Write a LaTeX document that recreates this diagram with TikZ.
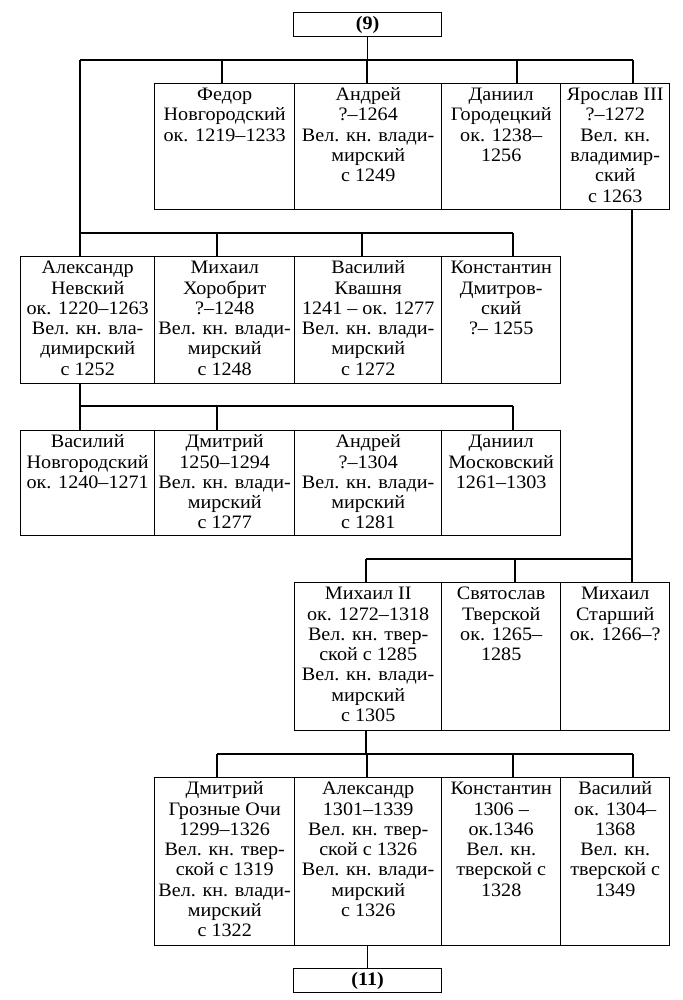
\documentclass[tikz,border=0pt]{standalone}
\usepackage{fontspec}
\setmainfont[FakeStretch=1.06]{Liberation Serif}
\tikzset{
  kb/.style={draw, line width=1.4pt, inner sep=0pt, anchor=north west, font=\fontsize{19}{20.3}\selectfont},
  hb/.style={draw, line width=1.4pt, inner sep=0pt, minimum width=148pt, minimum height=24pt, anchor=north west, font=\fontsize{19}{20.3}\selectfont\bfseries},
  ln/.style={line width=1.4pt}
}
% #1 name, #2 x-left, #3 y-top, #4 width, #5 height, #6 text
\newcommand{\kbox}[6]{%
  \node[kb] (#1) at (#2,#3) {\parbox[t][#5pt][t]{#4pt}{\centering\rule{0pt}{17pt}#6}};%
}
\begin{document}
\begin{tikzpicture}[x=1pt,y=-1pt]
\useasboundingbox[fill=white] (0,0) rectangle (682,1000);

% top and bottom reference boxes
\node[hb] (n9) at (293,12) {(9)};
\node[hb] (n11) at (293,968) {(11)};

% Row 1
\kbox{fedor}{154}{83}{140}{126}{Федор\\Новгородский\\ок. 1219–1233}
\kbox{andrA}{294}{83}{147}{126}{Андрей\\?–1264\\Вел. кн. влади-\\мирский\\с 1249}
\kbox{danG}{441}{83}{119}{126}{Даниил\\Городецкий\\ок. 1238–\\1256}
\kbox{yarosl}{560}{83}{109}{126}{Ярослав III\\?–1272\\Вел. кн.\\владимир-\\ский\\с 1263}

% Row 2
\kbox{alexN}{20}{256}{134}{127}{Александр\\Невский\\ок. 1220–1263\\Вел. кн. вла-\\димирский\\с 1252}
\kbox{mikhH}{154}{256}{140}{127}{Михаил\\Хоробрит\\?–1248\\Вел. кн. влади-\\мирский\\с 1248}
\kbox{vasK}{294}{256}{147}{127}{Василий\\Квашня\\1241 – ок. 1277\\Вел. кн. влади-\\мирский\\с 1272}
\kbox{konD}{441}{256}{119}{127}{Константин\\Дмитров-\\ский\\?– 1255}

% Row 3
\kbox{vasN}{20}{430}{134}{105}{Василий\\Новгородский\\ок. 1240–1271}
\kbox{dmit}{154}{430}{140}{105}{Дмитрий\\1250–1294\\Вел. кн. влади-\\мирский\\с 1277}
\kbox{andrB}{294}{430}{147}{105}{Андрей\\?–1304\\Вел. кн. влади-\\мирский\\с 1281}
\kbox{danM}{441}{430}{119}{105}{Даниил\\Московский\\1261–1303}

% Row 4
\kbox{mikhII}{294}{582}{147}{148}{Михаил II\\ок. 1272–1318\\Вел. кн. твер-\\ской с 1285\\Вел. кн. влади-\\мирский\\с 1305}
\kbox{svyat}{441}{582}{119}{148}{Святослав\\Тверской\\ок. 1265–\\1285}
\kbox{mikhS}{560}{582}{109}{148}{Михаил\\Старший\\ок. 1266–?}

% Row 5
\kbox{dmitG}{154}{777}{140}{168}{Дмитрий\\Грозные Очи\\1299–1326\\Вел. кн. твер-\\ской с 1319\\Вел. кн. влади-\\мирский\\с 1322}
\kbox{alexT}{294}{777}{147}{168}{Александр\\1301–1339\\Вел. кн. твер-\\ской с 1326\\Вел. кн. влади-\\мирский\\с 1326}
\kbox{konT}{441}{777}{119}{168}{Константин\\1306 –\\ок.1346\\Вел. кн.\\тверской с\\1328}
\kbox{vasT}{560}{777}{109}{168}{Василий\\ок. 1304–\\1368\\Вел. кн.\\тверской с\\1349}

% bus 1 (from (9))
\coordinate (b1L) at (80,60);
\coordinate (b1R) at (633,60);
\coordinate (d1a) at (222,60);
\coordinate (d1b) at (367,60);
\coordinate (d1c) at (517,60);
\draw[ln] (n9.south) -- (n9.south |- b1L);
\draw[ln] (b1L) -- (b1R);
\draw[ln] (d1a) -- (d1a |- fedor.north);
\draw[ln] (d1b) -- (d1b |- andrA.north);
\draw[ln] (d1c) -- (d1c |- danG.north);
\draw[ln] (b1R) -- (b1R |- yarosl.north);

% bus 2
\coordinate (b2L) at (80,233);
\coordinate (b2R) at (513,233);
\coordinate (d2b) at (217,233);
\coordinate (d2c) at (362,233);
\draw[ln] (b1L) -- (b2L);
\draw[ln] (b2L) -- (b2R);
\draw[ln] (b2L) -- (b2L |- alexN.north);
\draw[ln] (d2b) -- (d2b |- mikhH.north);
\draw[ln] (d2c) -- (d2c |- vasK.north);
\draw[ln] (b2R) -- (b2R |- konD.north);

% bus 3 (from Alexander Nevsky)
\coordinate (b3L) at (80,406);
\coordinate (b3R) at (513,406);
\coordinate (d3b) at (217,406);
\draw[ln] (b3L |- alexN.south) -- (b3L);
\draw[ln] (b3L) -- (b3R);
\draw[ln] (b3L) -- (b3L |- vasN.north);
\draw[ln] (d3b) -- (d3b |- dmit.north);
\draw[ln] (b3R) -- (b3R |- danM.north);

% bus 4 (from Yaroslav III)
\coordinate (b4R) at (632,559);
\coordinate (b4L) at (366,559);
\coordinate (d4b) at (515,559);
\draw[ln] (b4R |- yarosl.south) -- (b4R);
\draw[ln] (b4L) -- (b4R);
\draw[ln] (b4L) -- (b4L |- mikhII.north);
\draw[ln] (d4b) -- (d4b |- svyat.north);
\draw[ln] (b4R) -- (b4R |- mikhS.north);

% bus 5 (from Mikhail II)
\coordinate (b5L) at (217,754);
\coordinate (b5R) at (633,754);
\coordinate (d5b) at (367,754);
\coordinate (d5c) at (513,754);
\draw[ln] (b4L |- mikhII.south) -- (b4L |- b5L);
\draw[ln] (b5L) -- (b5R);
\draw[ln] (b5L) -- (b5L |- dmitG.north);
\draw[ln] (d5b) -- (d5b |- alexT.north);
\draw[ln] (d5c) -- (d5c |- konT.north);
\draw[ln] (b5R) -- (b5R |- vasT.north);

% to (11)
\draw[ln] (n11.north |- alexT.south) -- (n11.north);
\end{tikzpicture}
\end{document}
